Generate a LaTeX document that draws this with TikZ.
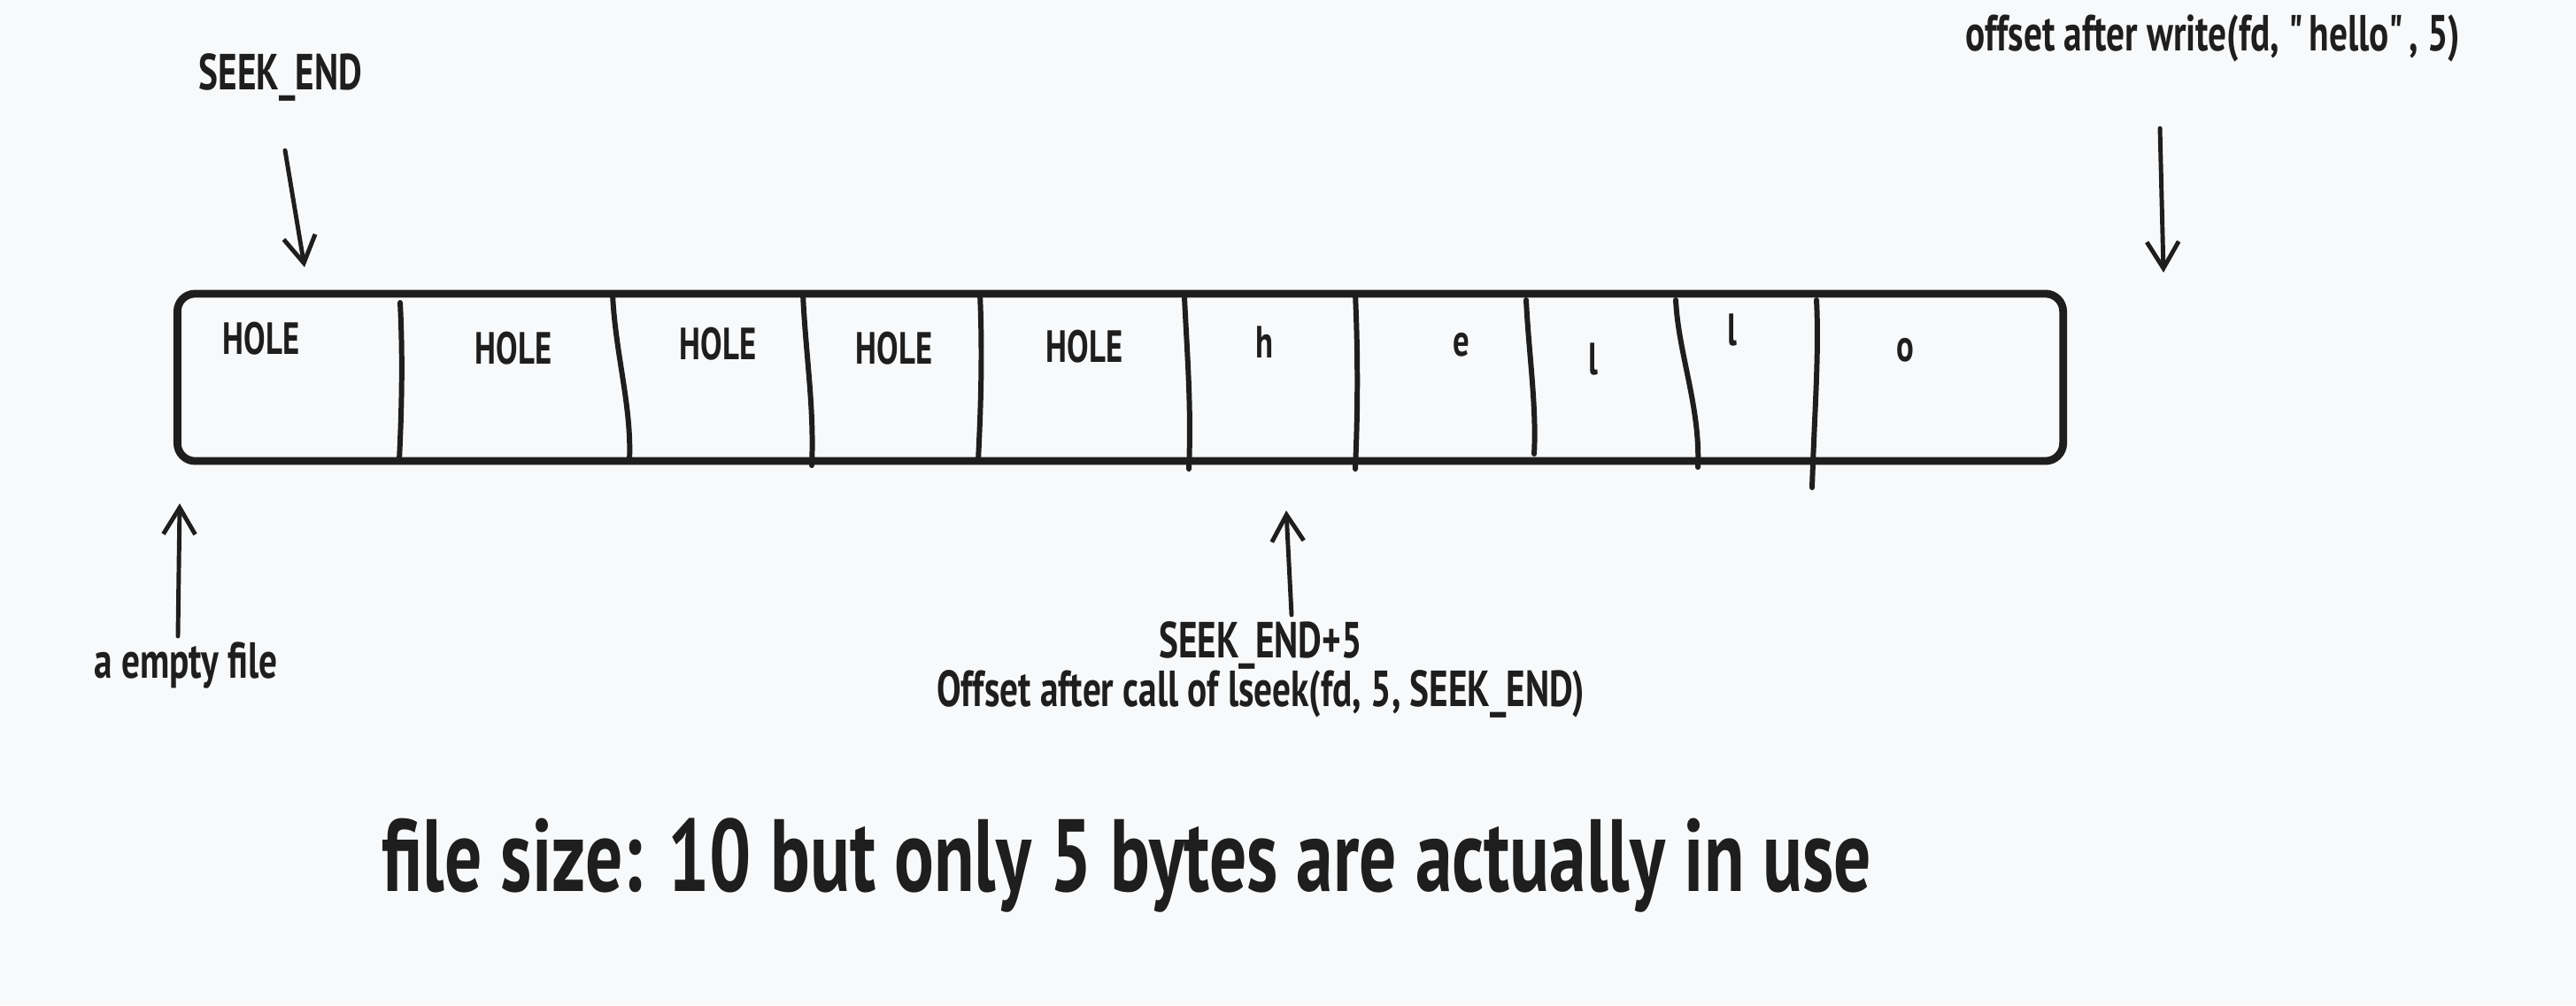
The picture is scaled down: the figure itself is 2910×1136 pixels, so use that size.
\documentclass[tikz,border=0pt]{standalone}
\usepackage{fontspec}
\setmainfont{PT Sans}[FakeStretch=0.72]
\usetikzlibrary{arrows.meta,positioning}

\definecolor{paper}{HTML}{F8F9FA}
\definecolor{ink}{HTML}{1E1E1E}

\tikzset{
  pointer/.style={draw=ink,line width=1.4pt,line cap=round,
    -{Straight Barb[length=3mm,width=3.6mm,line width=1.4pt]}},
  note/.style={text=ink,inner sep=0pt,anchor=base,
    font=\bfseries\fontsize{16.3}{18}\selectfont},
  bytetext/.style={note,font=\bfseries\fontsize{14.5}{16}\selectfont},
  bigtext/.style={text=ink,inner sep=0pt,anchor=base,
    font=\bfseries\fontsize{33}{36}\selectfont},
  divider/.style={draw=ink,line width=1.7pt,line cap=round},
  filebox/.style={draw=ink,line width=2.5pt,rounded corners=2mm,
    minimum width=21.29cm,minimum height=1.89cm,inner sep=0pt}
}

\begin{document}
\begin{tikzpicture}[x=0.01cm,y=-0.01cm]
  \fill[paper] (0,0) rectangle (2910,1136);
  \useasboundingbox (0,0) rectangle (2910,1136);

  % the file and its ten bytes
  \node[filebox] (file) at (1265.5,426.5) {};
  \foreach \xa/\ya/\xb/\yb in {452/342/451/520, 692/332/711/521,
      907/332/917/526, 1107/332/1105/521, 1338/336/1343/530,
      1531/332/1531/530, 1724/339/1733/513, 1893/339/1918/528,
      2052/339/2047/551}
    \draw[divider] (\xa,\ya) .. controls (\xa+3,400) and (\xb+3,460) .. (\xb,\yb);

  \foreach \x/\y/\t [count=\i] in {295/400/HOLE, 580/411/HOLE, 811/406/HOLE,
      1010/411/HOLE, 1225/409/HOLE, 1428/404/h, 1651/402/e, 1800/423/l,
      1957/390/l, 2152/408/o}
    \node[bytetext] (byte\i) at (\x,\y) {\t};

  % labels
  \node[note] (seekend) at (317,101) {SEEK\_END};
  \node[note] (written) at (2500,57) {offset after write(fd, \textquotedbl hello\textquotedbl, 5)};
  \node[note] (empty) at (210,766) {a empty file};
  \node[note] (seekfive) at (1424,743) {SEEK\_END+5};
  \node[note] (lseeknote) at (1424,798) {Offset after call of lseek(fd, 5, SEEK\_END)};
  \node[bigtext] (size) at (1273,1007) {file size: 10 but only 5 bytes are actually in use};

  % pointers
  \coordinate (seekendtail) at (322,170);
  \coordinate (seekendhead) at (344,302);
  \coordinate (writtentail) at (2440,145);
  \coordinate (writtenhead) at (2444,308);
  \coordinate (emptytail) at (201,719);
  \coordinate (emptyhead) at (203,569);
  \coordinate (seekfivetail) at (1459,695);
  \coordinate (seekfivehead) at (1453,577);

  \draw[pointer] (seekendtail) -- (seekendhead);
  \draw[pointer] (writtentail) -- (writtenhead);
  \draw[pointer] (emptytail) -- (emptyhead);
  \draw[pointer] (seekfivetail) -- (seekfivehead);
\end{tikzpicture}
\end{document}
